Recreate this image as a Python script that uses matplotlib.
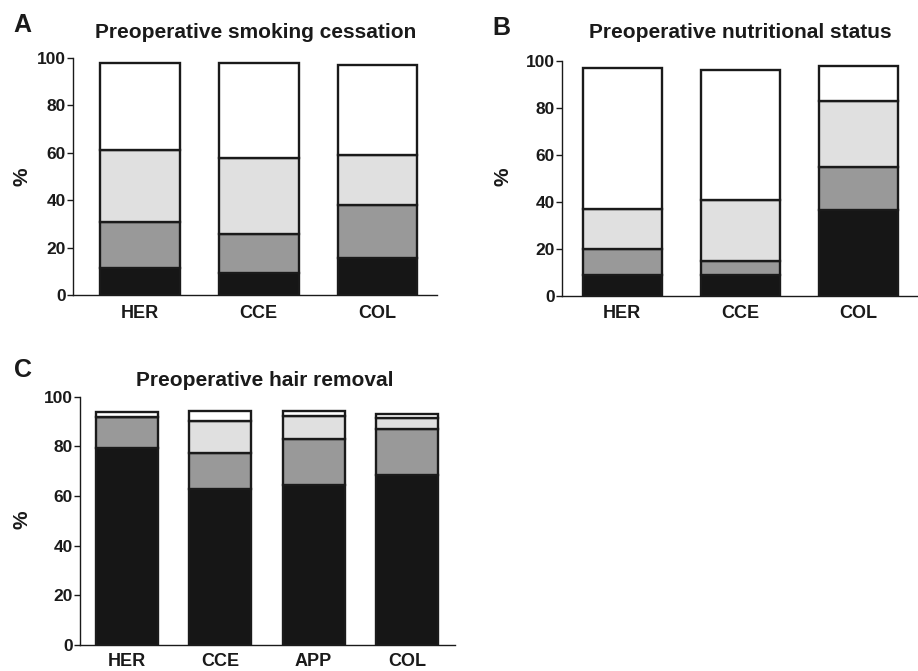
import numpy as np
import matplotlib
matplotlib.use("Agg")
import matplotlib.pyplot as plt

plt.rcParams['font.family'] = ['Liberation Sans', 'DejaVu Sans']
plt.rcParams['font.weight'] = 'bold'

# segment colours, bottom to top
seg_colors = ['#161616', '#999999', '#e0e0e0', '#ffffff']

# Panel A - smoking cessation (segments bottom -> top)
cats_a = ['HER', 'CCE', 'COL']
a_seg1 = [11.5, 9.5, 15.5]
a_seg2 = [19.5, 16.5, 22.5]
a_seg3 = [30.0, 32.0, 21.0]
a_seg4 = [37.0, 40.0, 38.0]

# Panel B - nutritional status
cats_b = ['HER', 'CCE', 'COL']
b_seg1 = [9.0, 9.0, 36.5]
b_seg2 = [11.0, 6.0, 18.5]
b_seg3 = [17.0, 26.0, 28.0]
b_seg4 = [60.0, 55.0, 15.0]

# Panel C - hair removal
cats_c = ['HER', 'CCE', 'APP', 'COL']
c_seg1 = [79.5, 62.8, 64.4, 68.5]
c_seg2 = [12.5, 14.4, 18.6, 18.4]
c_seg3 = [0.0, 13.1, 9.3, 4.4]
c_seg4 = [2.0, 3.9, 1.9, 1.7]

yticks = [0, 20, 40, 60, 80, 100]

fig = plt.figure(figsize=(9.18, 6.71), dpi=100)


def stacked(ax, cats, segs, width, xlim, xpad):
    x = np.arange(len(cats))
    bottom = np.zeros(len(cats))
    for seg, col in zip(segs, seg_colors):
        seg = np.array(seg)
        ax.bar(x, seg, width, bottom=bottom, color=col, edgecolor='#1a1a1a',
               linewidth=1.7, zorder=2)
        bottom += seg
    ax.set_xlim(*xlim)
    ax.set_ylim(0, 100)
    ax.set_yticks(yticks)
    ax.set_xticks(x)
    ax.set_xticklabels(cats, fontsize=13, fontweight='bold', color='#1a1a1a')
    ax.tick_params(axis='x', length=0, pad=xpad)
    ax.tick_params(axis='y', length=4, width=1, pad=1, labelsize=12.5,
                   colors='#1a1a1a')
    for lab in ax.get_yticklabels():
        lab.set_fontweight('bold')
    ax.spines['top'].set_visible(False)
    ax.spines['right'].set_visible(False)
    ax.spines['left'].set_linewidth(1.0)
    ax.spines['bottom'].set_linewidth(1.0)
    ax.spines['left'].set_color('#1a1a1a')
    ax.spines['bottom'].set_color('#1a1a1a')
    ax.spines['bottom'].set_zorder(3)


ax_a = fig.add_axes([0.0795, 0.560, 0.3965, 0.3537])
stacked(ax_a, cats_a, [a_seg1, a_seg2, a_seg3, a_seg4], 0.67, (-0.564, 2.50), 7)

ax_b = fig.add_axes([0.612, 0.5593, 0.3866, 0.3497])
stacked(ax_b, cats_b, [b_seg1, b_seg2, b_seg3, b_seg4], 0.67, (-0.51, 2.49), 7)

ax_c = fig.add_axes([0.0871, 0.0387, 0.4085, 0.3701])
stacked(ax_c, cats_c, [c_seg1, c_seg2, c_seg3, c_seg4], 0.665, (-0.504, 3.514), 5.5)

# titles, panel letters and y labels
fig.text(256 / 918, 1 - 37.5 / 671, 'Preoperative smoking cessation', ha='center',
         va='baseline', fontsize=15, fontweight='bold', color='#1a1a1a')
fig.text(740 / 918, 1 - 37.5 / 671, 'Preoperative nutritional status', ha='center',
         va='baseline', fontsize=15, fontweight='bold', color='#1a1a1a')
fig.text(264.5 / 918, 1 - 386.5 / 671, 'Preoperative hair removal', ha='center',
         va='baseline', fontsize=15, fontweight='bold', color='#1a1a1a')

fig.text(13 / 918, 1 - 32 / 671, 'A', ha='left', va='baseline', fontsize=18,
         fontweight='bold', color='#1a1a1a')
fig.text(492 / 918, 1 - 35 / 671, 'B', ha='left', va='baseline', fontsize=18,
         fontweight='bold', color='#1a1a1a')
fig.text(14 / 918, 1 - 377 / 671, 'C', ha='left', va='baseline', fontsize=18,
         fontweight='bold', color='#1a1a1a')

for xp, yp in [(21.5, 176.5), (503, 176.5), (22.5, 520)]:
    fig.text(xp / 918, 1 - yp / 671, '%', ha='center', va='center', rotation=90,
             fontsize=15, fontweight='bold', color='#1a1a1a')

fig.savefig('out.png', dpi=100)
